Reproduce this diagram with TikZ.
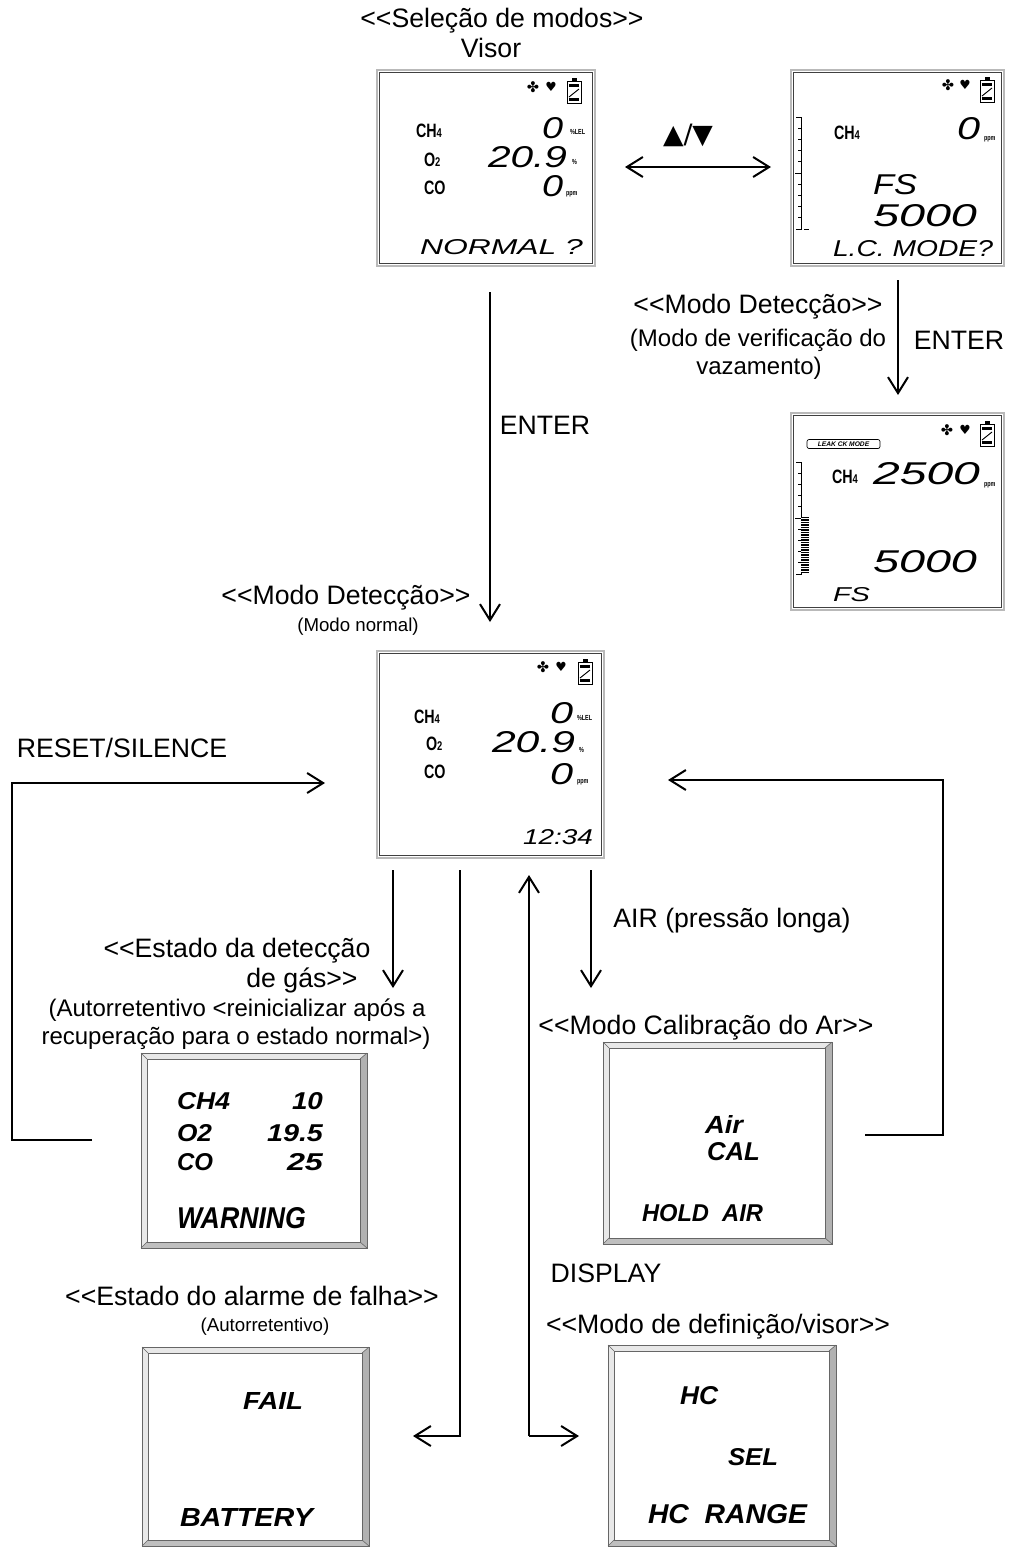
\documentclass[tikz,border=0pt]{standalone}
\usepackage{fontspec}
\usepackage{graphicx}
\setmainfont{Liberation Sans}
\newfontfamily\symf{DejaVu Sans}
\newfontfamily\lcdlab[FakeStretch=0.74]{Liberation Sans}
\usetikzlibrary{arrows.meta,calc}
\newlength\px \setlength\px{0.75pt}
\newcommand\fitbox[3]{\resizebox{#1\px}{#2\px}{#3}}
\newcommand\LL{<\kern0pt<}
\newcommand\GG{>\kern0pt>}
\newcommand\sbs[1]{{\fontsize{9.5}{9.5}\selectfont #1}}
\newcommand\seg[6]{\node[segn] (#1) at (#2,#3) {\fitbox{#4}{#5}{#6}};}
\newcommand\bev[6]{\node[bevn] (#1) at (#2,#3) {\fitbox{#4}{#5}{#6}};}
\newcommand\lcdinner[1]{\draw[black!75, line width=0.5pt] ($(#1.north west)+(2.5,2.5)$) rectangle ($(#1.south east)+(-2.5,-2.5)$);}
\newcommand\bevel[1]{%
 \fill[gray!18] (#1.north west) -- (#1.north east) -- ($(#1.north east)+(-7,6)$) -- ($(#1.north west)+(6,6)$) -- cycle;
 \fill[gray!18] (#1.north west) -- ($(#1.north west)+(6,6)$) -- ($(#1.south west)+(6,-6)$) -- (#1.south west) -- cycle;
 \fill[gray!60] (#1.north east) -- (#1.south east) -- ($(#1.south east)+(-7,-6)$) -- ($(#1.north east)+(-7,6)$) -- cycle;
 \fill[gray!50] (#1.south west) -- (#1.south east) -- ($(#1.south east)+(-7,-6)$) -- ($(#1.south west)+(6,-6)$) -- cycle;
 \draw[gray!80!black, line width=0.45pt] (#1.north west) rectangle (#1.south east);
 \draw[gray!80!black, line width=0.45pt] ($(#1.north west)+(6,6)$) rectangle ($(#1.south east)+(-7,-6)$);
 \draw[gray!80!black, line width=0.45pt] (#1.north west) -- ($(#1.north west)+(6,6)$) (#1.north east) -- ($(#1.north east)+(-7,6)$) (#1.south west) -- ($(#1.south west)+(6,-6)$) (#1.south east) -- ($(#1.south east)+(-7,-6)$);
}
\tikzset{
 lbl/.style={anchor=base, inner sep=0, font=\fontsize{20}{24}\selectfont},
 lblm/.style={lbl, font=\fontsize{18}{22}\selectfont},
 lbls/.style={lbl, font=\fontsize{14}{17}\selectfont},
 arr/.style={line width=1.5pt, -{Straight Barb[length=12pt,width=15pt]}},
 darr/.style={line width=1.5pt, {Straight Barb[length=12pt,width=15pt]}-{Straight Barb[length=12pt,width=15pt]}},
 lcd/.style={rectangle, draw=gray!55, line width=0.9pt, inner sep=0, outer sep=0, fill=white},
 bevbox/.style={rectangle, inner sep=0, outer sep=0, fill=white},
 segn/.style={anchor=south west, inner sep=0, outer sep=0, font=\itshape},
 bevn/.style={anchor=south west, inner sep=0, outer sep=0, font=\bfseries\itshape},
 lab/.style={anchor=base west, inner sep=0, outer sep=0, font=\lcdlab\bfseries\fontsize{14.5}{14.5}\selectfont},
 unit/.style={anchor=base west, inner sep=0, outer sep=0, font=\lcdlab\bfseries\fontsize{5.5}{5.5}\selectfont},
 icon/.style={inner sep=0, outer sep=0, font=\symf\fontsize{9.5}{9.5}\selectfont},
 fan/.style={inner sep=0, outer sep=0, font=\symf\fontsize{11}{11}\selectfont},
 batt/.pic={
  \draw[line width=0.7pt] (0,3) rectangle (14,25);
  \fill (4.5,0) rectangle (9.5,3);
  \fill (2,5.5) rectangle (12,8.5);
  \draw[line width=0.7pt] (2,19) -- (12,11);
  \fill (2,19.5) rectangle (12,23);
 },
 bargraph/.pic={
  \draw[line width=0.6pt] (-5,0) -- (0,0) -- (0,112) -- (-5,112);
  \foreach \i in {1,...,9} \draw[line width=0.5pt] (-3,\i*11.2) -- (0,\i*11.2);
  \draw[line width=0.6pt] (-6,56) -- (0,56);
 }
}
\begin{document}
\begin{tikzpicture}[x=0.75pt,y=-0.75pt]
\useasboundingbox (0,0) rectangle (1009,1547);

% ---------- labels ----------
\node[lbl] (t1) at (502,27) {\LL Seleção de modos\GG};
\node[lbl] (t2) at (491,57) {Visor};
\node[lbl, font=\symf\fontsize{20}{24}\selectfont] (t3) at (688,143) {▲/▼};
\node[lbl] (t4) at (758,313) {\LL Modo Detecção\GG};
\node[lblm] (t5) at (758,346) {(Modo de verificação do};
\node[lblm] (t6) at (759,374) {vazamento)};
\node[lbl] (t7) at (959,349) {ENTER};
\node[lbl] (t8) at (545,434) {ENTER};
\node[lbl] (t9) at (346,604) {\LL Modo Detecção\GG};
\node[lbls] (t10) at (358,631) {(Modo normal)};
\node[lbl] (t11) at (122,757) {RESET/SILENCE};
\node[lbl] (t12) at (732,927) {AIR (pressão longa)};
\node[lbl] (t13) at (237,957) {\LL Estado da detecção};
\node[lbl] (t14) at (302,987) {de gás\GG};
\node[lblm] (t15) at (237,1016) {(Autorretentivo <reinicializar após a};
\node[lblm] (t16) at (236,1044) {recuperação para o estado normal>)};
\node[lbl] (t17) at (706,1034) {\LL Modo Calibração do Ar\GG};
\node[lbl] (t18) at (606,1282) {DISPLAY};
\node[lbl] (t19) at (252,1305) {\LL Estado do alarme de falha\GG};
\node[lbls] (t20) at (265,1331) {(Autorretentivo)};
\node[lbl] (t21) at (718,1333) {\LL Modo de definição/visor\GG};

% ---------- LCD screens ----------
\node[lcd, minimum width=218*\px, minimum height=196*\px] (lcd1) at (486,168) {};
\node[lcd, minimum width=213*\px, minimum height=196*\px] (lcd2) at (897.5,168) {};
\node[lcd, minimum width=213*\px, minimum height=197*\px] (lcd3) at (897.5,511.5) {};
\node[lcd, minimum width=227*\px, minimum height=207*\px] (lcd4) at (490.5,754.5) {};
\lcdinner{lcd1}\lcdinner{lcd2}\lcdinner{lcd3}\lcdinner{lcd4}

% icons
\node[fan] (f1) at (533,87) {✤}; \node[icon] (h1) at (551,87) {♥}; \pic at (567,78) {batt};
\node[fan] (f2) at (948,85) {✤}; \node[icon] (h2) at (965,85) {♥}; \pic at (980,77) {batt};
\node[fan] (f3) at (947,430) {✤}; \node[icon] (h3) at (965,430) {♥}; \pic at (980,421) {batt};
\node[fan] (f4) at (543,667) {✤}; \node[icon] (h4) at (561,667) {♥}; \pic at (578,659) {batt};

% LCD1
\node[lab] (c1a) at (416,137) {CH\sbs{4}};
\node[lab] (c1b) at (424,166) {O\sbs{2}};
\node[lab] (c1c) at (424,194) {CO};
\seg{s1a}{542}{139}{21}{21}{0}
\seg{s1b}{488}{168}{79}{21}{20.9}
\seg{s1c}{542}{197}{21}{21}{0}
\seg{s1d}{420}{255}{163}{15}{NORMAL ?}
\node[unit] (u1a) at (570,134) {\%LEL};
\node[unit] (u1b) at (572,164) {\%};
\node[unit] (u1c) at (566,195) {ppm};

% LCD2
\pic at (801,117) {bargraph};
\draw[line width=0.6pt] (804,229) -- (809,229);
\node[lab] (c2a) at (834,139) {CH\sbs{4}};
\seg{s2a}{957}{140}{23}{22}{0}
\node[unit] (u2a) at (984,140) {ppm};
\seg{s2b}{873}{195}{44}{20}{FS}
\seg{s2c}{873}{227}{104}{22}{5000}
\seg{s2d}{833}{257}{160}{16}{L.C.\ MODE?}

% LCD3
\node[draw, rounded corners=1.5pt, line width=0.5pt, inner sep=0, minimum width=73*\px, minimum height=9*\px, font=\bfseries\itshape\fontsize{5}{5}\selectfont] (leak) at (843.5,444) {LEAK CK MODE};
\pic at (801,462) {bargraph};
\fill (801,517) rectangle (809,573);
\foreach \k in {0,...,21} \draw[white, line width=0.25pt] (801,518.5+\k*2.5) -- (809,518.5+\k*2.5);
\node[lab] (c3a) at (832,483) {CH\sbs{4}};
\seg{s3a}{873}{485}{107}{22}{2500}
\node[unit] (u3a) at (984,486) {ppm};
\seg{s3b}{873}{573}{104}{22}{5000}
\seg{s3c}{833}{602}{37}{14}{FS}

% LCD4
\node[lab] (c4a) at (414,723) {CH\sbs{4}};
\node[lab] (c4b) at (426,750) {O\sbs{2}};
\node[lab] (c4c) at (424,778) {CO};
\seg{s4a}{550}{724}{23}{21}{0}
\seg{s4b}{492}{753}{83}{21}{20.9}
\seg{s4c}{550}{785}{23}{21}{0}
\seg{s4d}{523}{845}{70}{15}{12:34}
\node[unit] (u4a) at (577,720) {\%LEL};
\node[unit] (u4b) at (579,752) {\%};
\node[unit] (u4c) at (577,783) {ppm};

% ---------- bevel boxes ----------
\node[bevbox, minimum width=226*\px, minimum height=195*\px] (warn) at (254,1150.5) {};
\node[bevbox, minimum width=229*\px, minimum height=202*\px] (air) at (717.5,1143) {};
\node[bevbox, minimum width=227*\px, minimum height=199*\px] (fail) at (255.5,1446.5) {};
\node[bevbox, minimum width=228*\px, minimum height=201*\px] (hc) at (722,1445.5) {};
\bevel{warn}\bevel{air}\bevel{fail}\bevel{hc}

\bev{w1}{177}{1110}{53}{17}{CH4}
\bev{w2}{292}{1110}{31}{17}{10}
\bev{w3}{177}{1142}{35}{17}{O2}
\bev{w4}{267}{1142}{56}{17}{19.5}
\bev{w5}{177}{1171}{36}{17}{CO}
\bev{w6}{287}{1171}{36}{17}{25}
\bev{w7}{177}{1229}{129}{21}{WARNING}

\bev{a1t}{705}{1133}{38}{18}{Air}
\bev{a2t}{707}{1161}{53}{18}{CAL}
\bev{a3t}{642}{1222}{121}{17}{HOLD\ \ AIR}

\bev{fa1}{243}{1409}{60}{17}{FAIL}
\bev{fa2}{180}{1526}{133}{18}{BATTERY}

\bev{hc1}{680}{1405}{38}{18}{HC}
\bev{hc2}{728}{1466}{50}{17}{SEL}
\bev{hc3}{648}{1524}{159}{19}{HC\ \ RANGE}

% ---------- connectors ----------
\coordinate (a1) at (625,167);
\coordinate (a2) at (771,167);
\draw[darr] (a1) -- (a2);

\coordinate (e1a) at (490,292);
\coordinate (e1b) at (490,622);
\draw[arr] (e1a) -- (e1b);

\coordinate (e2a) at (898,280);
\coordinate (e2b) at (898,395);
\draw[arr] (e2a) -- (e2b);

\coordinate (l1) at (92,1140);
\coordinate (l2) at (12,1140);
\coordinate (l3) at (12,783);
\coordinate (l4) at (325,783);
\draw[arr] (l1) -- (l2) -- (l3) -- (l4);

\coordinate (r1) at (865,1135);
\coordinate (r2) at (943,1135);
\coordinate (r3) at (943,780);
\coordinate (r4) at (668,780);
\draw[arr] (r1) -- (r2) -- (r3) -- (r4);

\coordinate (d1a) at (393,870);
\coordinate (d1b) at (393,988);
\draw[arr] (d1a) -- (d1b);

\coordinate (fp1) at (460,870);
\coordinate (fp2) at (460,1436);
\coordinate (fp3) at (413,1436);
\draw[arr] (fp1) -- (fp2) -- (fp3);

\coordinate (up1) at (529,1436);
\coordinate (up2) at (529,875);
\coordinate (up3) at (579,1436);
\draw[arr] (up1) -- (up2);
\draw[arr] (up1) -- (up3);

\coordinate (d2a) at (591,870);
\coordinate (d2b) at (591,988);
\draw[arr] (d2a) -- (d2b);
\end{tikzpicture}
\end{document}
